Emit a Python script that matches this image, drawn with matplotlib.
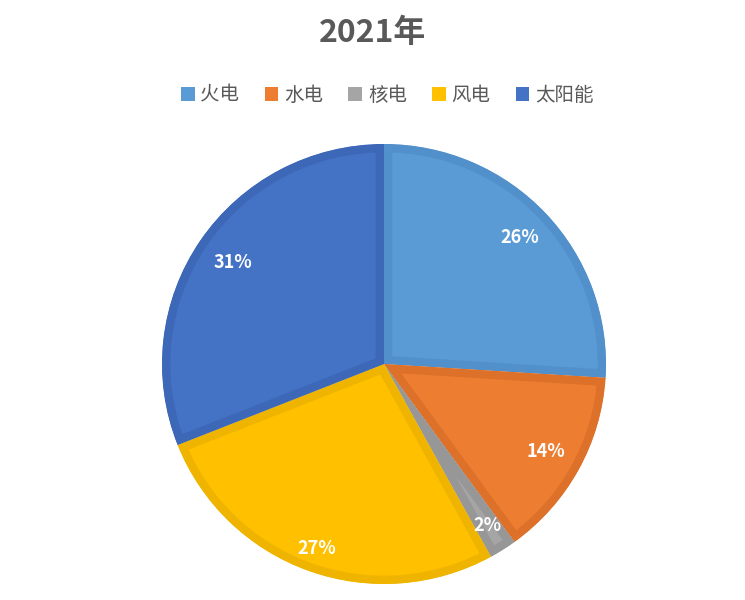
import numpy as np
import matplotlib
matplotlib.use('Agg')
import matplotlib.pyplot as plt
from matplotlib.patches import Patch

plt.rcParams['font.family'] = ['Noto Sans CJK SC', 'DejaVu Sans']

title = "2021年"
labels = ["火电", "水电", "核电", "风电", "太阳能"]
shares = [26, 14, 2, 27, 31]
colors = ["#5B9BD5", "#ED7D31", "#A5A5A5", "#FFC000", "#4472C4"]
borders = ["#5290CC", "#DD7129", "#979797", "#EFB400", "#3D68B8"]
label_dist = [0.84, 0.83, 0.87, 0.89, 0.82]

fig = plt.figure(figsize=(7.45, 6), dpi=100)
ax = fig.add_axes([(384 - 222) / 745, 1 - (364 + 220) / 600, 444 / 745, 440 / 600])

wedges, texts, autotexts = ax.pie(
    shares, colors=colors, startangle=90, counterclock=False,
    autopct='%d%%', pctdistance=0.84,
    textprops=dict(color='white', fontsize=13, fontweight='bold'),
    wedgeprops=dict(linewidth=0))
# darker inner rim, Excel style: stroke clipped to the wedge itself
for w, b in zip(wedges, borders):
    w.set_edgecolor(b)
    w.set_linewidth(12)
    w.set_joinstyle('miter')
    w.set_clip_on(True)
    w.set_clip_path(w)
# Excel "best fit" puts labels at slightly different radii
for w, t, d in zip(wedges, autotexts, label_dist):
    a = np.deg2rad((w.theta1 + w.theta2) / 2)
    t.set_position((d * np.cos(a), d * np.sin(a)))
ax.set_xlim(-1, 1)
ax.set_ylim(-1, 1)
ax.set_aspect('auto')

fig.text(0.5, 1 - 33 / 600, title, ha='center', va='center',
         fontsize=23, fontweight='bold', color='#595959')

handles = [Patch(facecolor=c, edgecolor='none') for c in colors]
fig.legend(handles, labels, loc='center', bbox_to_anchor=(0.52, 1 - 95 / 600),
           ncol=5, frameon=False, fontsize=14, handlelength=0.7, handleheight=0.7,
           handletextpad=0.3, columnspacing=1.3, labelcolor='#595959')

fig.savefig('out.png', dpi=100, facecolor='white')
